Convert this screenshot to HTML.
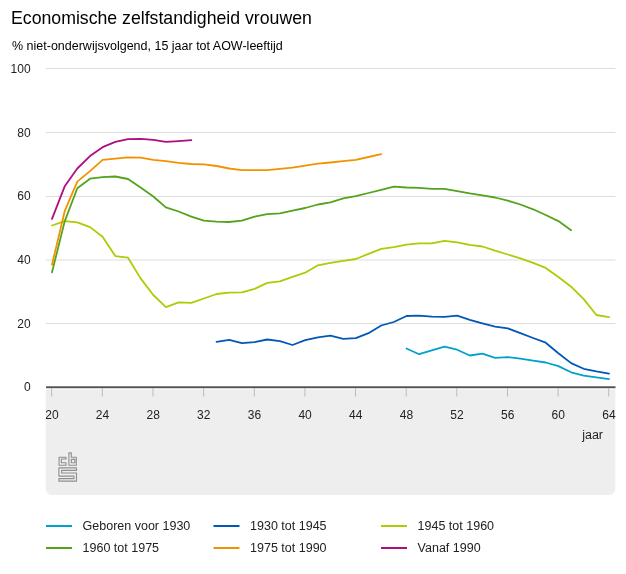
<!DOCTYPE html>
<html><head><meta charset="utf-8"><style>
html,body{margin:0;padding:0;background:#fff;width:626px;height:574px;overflow:hidden}
svg{display:block;font-family:"Liberation Sans",sans-serif;will-change:transform}
</style></head><body>
<svg width="626" height="574" viewBox="0 0 626 574">
<text x="11" y="24" font-size="17.7" fill="#000">Economische zelfstandigheid vrouwen</text>
<text x="12" y="50.1" font-size="12.5" fill="#000">% niet-onderwijsvolgend, 15 jaar tot AOW-leeftijd</text>
<path d="M45.7,389.5 H615.3 V489 A6,6 0 0 1 609.3,495 H51.7 A6,6 0 0 1 45.7,489 Z" fill="#eeeeee"/>
<g stroke="#dddddd" stroke-width="1"><line x1="46" x2="615.5" y1="68.5" y2="68.5"/><line x1="46" x2="615.5" y1="132.5" y2="132.5"/><line x1="46" x2="615.5" y1="196.5" y2="196.5"/><line x1="46" x2="615.5" y1="260" y2="260"/><line x1="46" x2="615.5" y1="323.5" y2="323.5"/></g>
<g font-size="12" fill="#222"><text x="30.6" y="391.3" text-anchor="end">0</text><text x="30.6" y="327.6" text-anchor="end">20</text><text x="30.6" y="263.9" text-anchor="end">40</text><text x="30.6" y="200.2" text-anchor="end">60</text><text x="30.6" y="136.5" text-anchor="end">80</text><text x="30.6" y="72.8" text-anchor="end">100</text></g>
<g fill="none" stroke-width="1.8" stroke-linejoin="round" stroke-linecap="round">
<polyline points="406.5,348.5 419.1,354.2 431.8,350.4 444.5,346.7 457.1,349.7 469.8,355.5 482.4,353.6 495.1,357.9 507.8,357.1 520.4,358.7 533.1,360.6 545.7,362.5 558.4,366.1 571.1,372.3 583.7,375.7 596.4,377.4 609.0,379.2" stroke="#00a1cd"/><polyline points="216.6,341.8 229.2,339.9 241.9,343.2 254.6,342.1 267.2,339.5 279.9,341.1 292.5,345.0 305.2,340.2 317.9,337.3 330.5,335.7 343.2,338.9 355.8,338.1 368.5,333.2 381.2,325.5 393.8,322.0 406.5,316.0 419.1,315.7 431.8,316.6 444.5,316.9 457.1,315.7 469.8,319.8 482.4,323.3 495.1,326.6 507.8,328.4 520.4,333.2 533.1,338.0 545.7,342.7 558.4,353.2 571.1,363.1 583.7,368.8 596.4,371.4 609.0,373.6" stroke="#0058b8"/><polyline points="52.0,225.5 64.7,221.1 77.3,222.3 90.0,227.1 102.6,236.7 115.3,256.1 128.0,257.7 140.6,278.4 153.3,295.0 165.9,307.1 178.6,302.3 191.3,302.9 203.9,298.5 216.6,294.0 229.2,292.7 241.9,292.4 254.6,288.9 267.2,282.9 279.9,281.3 292.5,276.8 305.2,272.7 317.9,265.3 330.5,262.8 343.2,260.9 355.8,259.0 368.5,253.9 381.2,248.8 393.8,247.2 406.5,244.6 419.1,243.4 431.8,243.4 444.5,240.8 457.1,242.4 469.8,244.9 482.4,246.5 495.1,250.7 507.8,254.5 520.4,258.3 533.1,262.8 545.7,267.9 558.4,277.1 571.1,286.7 583.7,299.1 596.4,315.0 609.0,317.2" stroke="#afcb05"/><polyline points="52.0,272.3 64.7,221.4 77.3,188.3 90.0,178.7 102.6,177.1 115.3,176.5 128.0,179.0 140.6,187.6 153.3,196.5 165.9,207.4 178.6,211.5 191.3,216.6 203.9,220.7 216.6,221.7 229.2,222.0 241.9,220.7 254.6,216.6 267.2,214.1 279.9,213.4 292.5,210.6 305.2,208.0 317.9,204.5 330.5,202.4 343.2,198.4 355.8,196.2 368.5,193.0 381.2,189.8 393.8,186.7 406.5,187.5 419.1,187.9 431.8,188.9 444.5,188.9 457.1,191.1 469.8,193.4 482.4,195.3 495.1,197.5 507.8,200.7 520.4,204.5 533.1,209.3 545.7,215.0 558.4,221.1 571.1,230.3" stroke="#53a31d"/><polyline points="52.0,264.7 64.7,211.2 77.3,181.6 90.0,171.1 102.6,159.9 115.3,158.6 128.0,157.4 140.6,157.7 153.3,159.9 165.9,161.2 178.6,162.8 191.3,164.0 203.9,164.4 216.6,166.0 229.2,168.5 241.9,170.1 254.6,170.1 267.2,170.1 279.9,168.8 292.5,167.6 305.2,165.6 317.9,163.7 330.5,162.5 343.2,161.2 355.8,159.9 368.5,157.0 381.2,154.2" stroke="#f39200"/><polyline points="52.0,218.8 64.7,186.3 77.3,168.5 90.0,156.1 102.6,147.2 115.3,141.9 128.0,139.2 140.6,138.9 153.3,139.8 165.9,141.9 178.6,141.1 191.3,140.2" stroke="#af0e80"/>
</g>
<rect x="46" y="386.3" width="569.5" height="1.9" fill="#505050"/>
<g stroke="#bbbbbb" stroke-width="1"><line x1="51.7" x2="51.7" y1="388" y2="396.5"/><line x1="102.3" x2="102.3" y1="388" y2="396.5"/><line x1="153.0" x2="153.0" y1="388" y2="396.5"/><line x1="203.6" x2="203.6" y1="388" y2="396.5"/><line x1="254.3" x2="254.3" y1="388" y2="396.5"/><line x1="304.9" x2="304.9" y1="388" y2="396.5"/><line x1="355.5" x2="355.5" y1="388" y2="396.5"/><line x1="406.2" x2="406.2" y1="388" y2="396.5"/><line x1="456.8" x2="456.8" y1="388" y2="396.5"/><line x1="507.5" x2="507.5" y1="388" y2="396.5"/><line x1="558.1" x2="558.1" y1="388" y2="396.5"/><line x1="608.7" x2="608.7" y1="388" y2="396.5"/></g>
<g font-size="12" fill="#222"><text x="51.9" y="418.8" text-anchor="middle">20</text><text x="102.5" y="418.8" text-anchor="middle">24</text><text x="153.2" y="418.8" text-anchor="middle">28</text><text x="203.8" y="418.8" text-anchor="middle">32</text><text x="254.5" y="418.8" text-anchor="middle">36</text><text x="305.1" y="418.8" text-anchor="middle">40</text><text x="355.7" y="418.8" text-anchor="middle">44</text><text x="406.4" y="418.8" text-anchor="middle">48</text><text x="457.0" y="418.8" text-anchor="middle">52</text><text x="507.7" y="418.8" text-anchor="middle">56</text><text x="558.3" y="418.8" text-anchor="middle">60</text><text x="608.9" y="418.8" text-anchor="middle">64</text></g>
<text x="603" y="439.2" font-size="12.5" fill="#222" text-anchor="end">jaar</text>
<g fill="none" stroke="#8e8e8e" stroke-width="1.1" stroke-linejoin="round">
<path d="M59.1,457.3 H66 V459 H61.4 V462.7 H66 V465.3 H59.1 Z"/>
<path d="M68.9,452.9 H71.3 V457.3 H76.3 V465.3 H68.9 Z M71.3,459.4 H74.8 V462.7 H71.3 Z"/>
<path d="M58.9,467.9 H76.5 V470.4 H61.6 V473.05 H76.5 V481.1 H58.9 V478.6 H74 V476.1 H58.9 Z"/>
</g>
<g font-size="12.5" fill="#222"><rect x="46.0" y="525.0" width="26" height="2" fill="#00a1cd"/><text x="82.6" y="530.4">Geboren voor 1930</text><rect x="213.5" y="525.0" width="26" height="2" fill="#0058b8"/><text x="250.1" y="530.4">1930 tot 1945</text><rect x="381.0" y="525.0" width="26" height="2" fill="#afcb05"/><text x="417.6" y="530.4">1945 tot 1960</text><rect x="46.0" y="547.0" width="26" height="2" fill="#53a31d"/><text x="82.6" y="552.4">1960 tot 1975</text><rect x="213.5" y="547.0" width="26" height="2" fill="#f39200"/><text x="250.1" y="552.4">1975 tot 1990</text><rect x="381.0" y="547.0" width="26" height="2" fill="#af0e80"/><text x="417.6" y="552.4">Vanaf 1990</text></g>
</svg>
</body></html>
